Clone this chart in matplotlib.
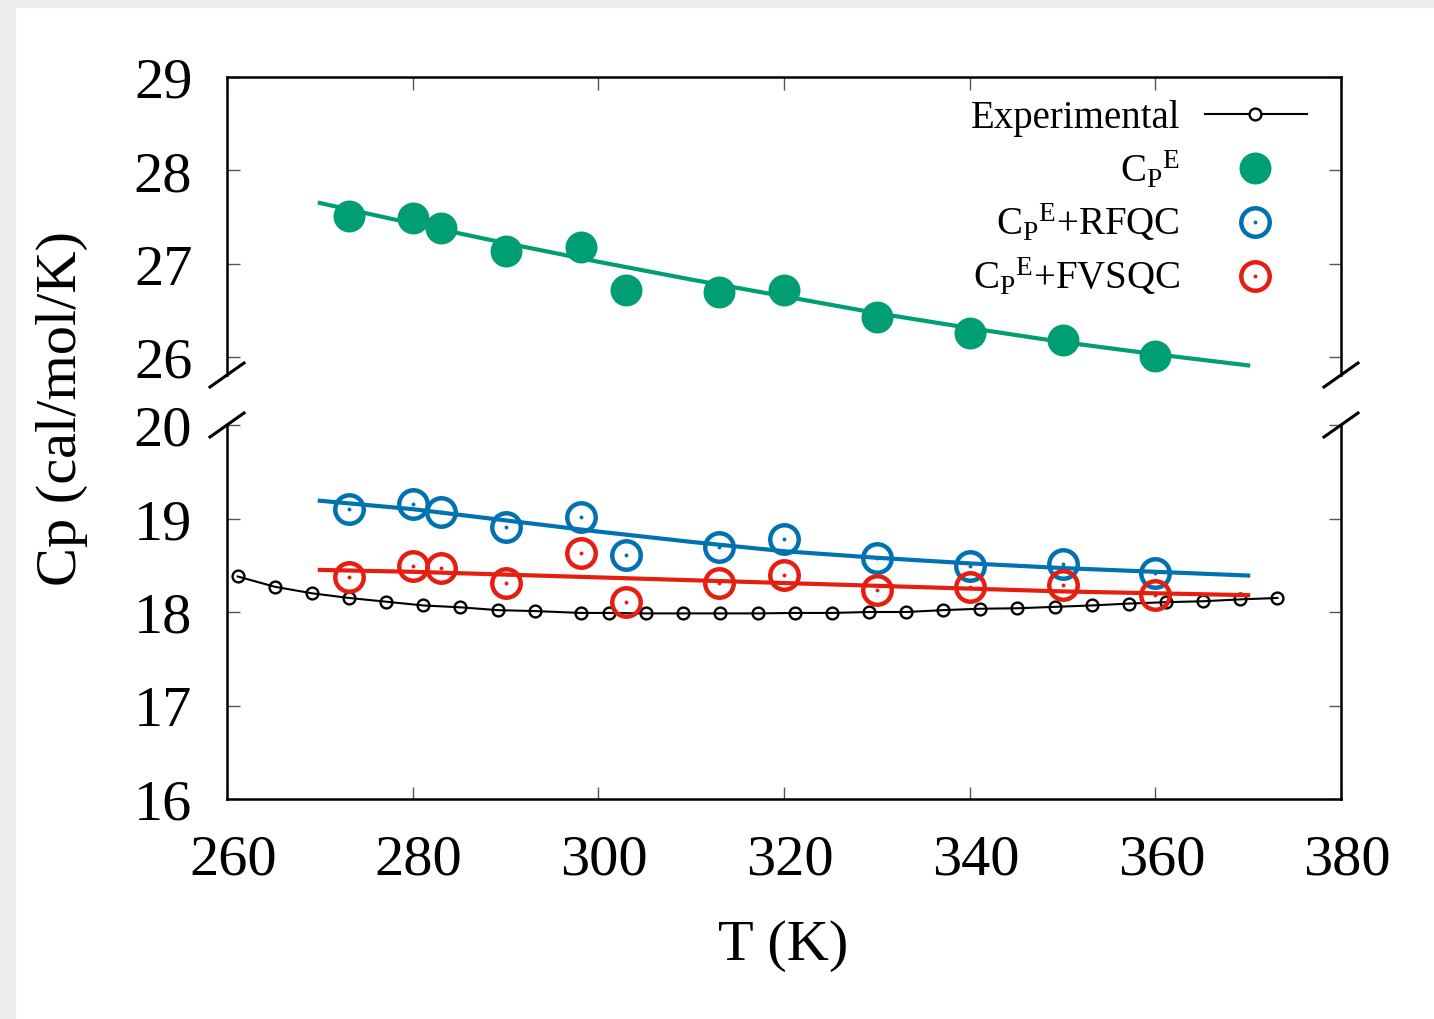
import matplotlib
matplotlib.use("Agg")
import matplotlib.pyplot as plt
from matplotlib.lines import Line2D
from matplotlib.patches import Rectangle
from matplotlib.transforms import ScaledTranslation

plt.rcParams["font.family"] = ["Liberation Serif", "DejaVu Serif"]
plt.rcParams["mathtext.fontset"] = "custom"
plt.rcParams["mathtext.rm"] = "Liberation Serif"
plt.rcParams["mathtext.it"] = "Liberation Serif:italic"

# experimental heat capacity
T_exp = [261.15, 265.15, 269.15, 273.15, 277.15, 281.15, 285.15, 289.15, 293.15,
         298.15, 301.15, 305.15, 309.15, 313.15, 317.15, 321.15, 325.15, 329.15,
         333.15, 337.15, 341.15, 345.15, 349.15, 353.15, 357.15, 361.15, 365.15,
         369.15, 373.15]
cp_exp = [18.38, 18.27, 18.20, 18.15, 18.11, 18.07, 18.05, 18.02, 18.01,
          17.99, 17.99, 17.985, 17.985, 17.985, 17.985, 17.99, 17.99, 18.00,
          18.00, 18.02, 18.035, 18.04, 18.055, 18.07, 18.09, 18.105, 18.115,
          18.135, 18.15]

# simulated points
T_sim = [273.15, 280, 283, 290, 298.15, 303, 313, 320, 330, 340, 350, 360]
cp_E = [27.51, 27.49, 27.38, 27.14, 27.18, 26.72, 26.70, 26.72, 26.43, 26.26, 26.18, 26.01]
cp_rfqc = [19.10, 19.15, 19.07, 18.91, 19.02, 18.61, 18.69, 18.78, 18.58, 18.49, 18.51, 18.42]
cp_fvsqc = [18.37, 18.49, 18.47, 18.31, 18.63, 18.11, 18.31, 18.40, 18.24, 18.27, 18.29, 18.18]

# fitted curves
T_fit = [270, 280, 290, 300, 310, 320, 330, 340, 350, 360, 370]
fit_E = [27.65, 27.43, 27.22, 27.02, 26.83, 26.65, 26.47, 26.31, 26.16, 26.03, 25.91]
fit_rfqc = [19.19, 19.10, 18.98, 18.86, 18.75, 18.65, 18.58, 18.52, 18.47, 18.43, 18.39]
fit_fvsqc = [18.45, 18.43, 18.40, 18.37, 18.34, 18.31, 18.28, 18.25, 18.22, 18.20, 18.18]

green = "#009e73"
blue = "#0072b2"
red = "#e51e10"

W, H = 1434, 1020
fig = plt.figure(figsize=(W / 100, H / 100), dpi=100)
fig.patch.set_facecolor("white")

# light grey strips on the left and top edge
fig.add_artist(Rectangle((0, 0), 15 / W, 1, transform=fig.transFigure,
                         color="#ededf0", zorder=-10))
fig.add_artist(Rectangle((0, 1 - 8 / H), 1, 8 / H, transform=fig.transFigure,
                         color="#ededf0", zorder=-10))

x0, x1 = 227, 1341
ax_bot = fig.add_axes([x0 / W, 1 - 800 / H, (x1 - x0) / W, (800 - 426) / H])
ax_top = fig.add_axes([x0 / W, 1 - 376 / H, (x1 - x0) / W, (376 - 78) / H])

for ax in (ax_bot, ax_top):
    ax.set_xlim(260, 380)
    ax.set_xticks(range(260, 381, 20))
    for s in ax.spines.values():
        s.set_linewidth(1.8)
    ax.tick_params(which="both", direction="in", length=9, width=1.0,
                   color="#555555", labelsize=42, left=True, right=True)

ax_bot.set_ylim(16, 20)
ax_bot.set_yticks([16, 17, 18, 19, 20])
ax_bot.spines["top"].set_visible(False)
ax_bot.tick_params(axis="x", top=False, bottom=True, pad=25)
ax_bot.tick_params(axis="y", pad=25)

# x labels sit a few pixels right of their ticks
shift = ScaledTranslation(6 / 100, 0, fig.dpi_scale_trans)
for lab in ax_bot.get_xticklabels():
    lab.set_transform(lab.get_transform() + shift)

ax_top.set_ylim(25.807, 29)
ax_top.set_yticks([26, 27, 28, 29])
ax_top.spines["bottom"].set_visible(False)
ax_top.tick_params(axis="x", top=True, bottom=False, labelbottom=False)
ax_top.tick_params(axis="y", pad=25)

ring_ms = 20.5
dot_ms = 23

# top panel: CpE
ax_top.plot(T_fit, fit_E, color=green, lw=3)
ax_top.plot(T_sim, cp_E, "o", color=green, ms=dot_ms, mec="none")

# bottom panel
ax_bot.plot(T_exp, cp_exp, "-o", color="black", lw=1.5, ms=8.5, mfc="none", mew=1.7)
for fit, pts, c in ((fit_rfqc, cp_rfqc, blue), (fit_fvsqc, cp_fvsqc, red)):
    ax_bot.plot(T_fit, fit, color=c, lw=3)
    ax_bot.plot(T_sim, pts, "o", color=c, ms=ring_ms, mfc="none", mew=3.2)
    ax_bot.plot(T_sim, pts, "o", color=c, ms=2.8, mec="none")

# axis break marks
for px in (x0, x1):
    for py in (376, 426):
        fig.add_artist(Line2D([(px - 17) / W, (px + 17) / W],
                              [1 - (py + 12) / H, 1 - (py - 12) / H],
                              transform=fig.transFigure, color="black", lw=2.2))

# key
def fx(px):
    return px / W

def fy(py):
    return 1 - py / H

txt_kw = dict(transform=fig.transFigure, ha="right", va="baseline", fontsize=28)
fig.text(fx(1180), fy(128), "Experimental", **txt_kw)
fig.text(fx(1180), fy(182), r"$\mathrm{{C_P}^E}$", **txt_kw)
fig.text(fx(1180), fy(235), r"$\mathrm{{C_P}^E}$+RFQC", **txt_kw)
fig.text(fx(1180), fy(289), r"$\mathrm{{C_P}^E}$+FVSQC", **txt_kw)

fig.add_artist(Line2D([fx(1205), fx(1307)], [fy(115), fy(115)], transform=fig.transFigure,
                      color="black", lw=1.5))
fig.add_artist(Line2D([fx(1255)], [fy(115)], transform=fig.transFigure, marker="o",
                      color="black", ms=8.5, mfc="white", mew=1.7))
fig.add_artist(Line2D([fx(1255)], [fy(169)], transform=fig.transFigure, marker="o",
                      color=green, ms=dot_ms, mec="none"))
for py, c in ((223, blue), (277, red)):
    fig.add_artist(Line2D([fx(1255)], [fy(py)], transform=fig.transFigure, marker="o",
                          color=c, ms=ring_ms, mfc="none", mew=3.2))
    fig.add_artist(Line2D([fx(1255)], [fy(py)], transform=fig.transFigure, marker="o",
                          color=c, ms=2.8, mec="none"))

fig.text(fx(783), fy(946), "T (K)", ha="center", va="center", fontsize=42)
fig.text(fx(62), fy(408), "Cp (cal/mol/K)", ha="center", va="center",
         rotation=90, fontsize=42)

fig.savefig("out.png", dpi=100)
